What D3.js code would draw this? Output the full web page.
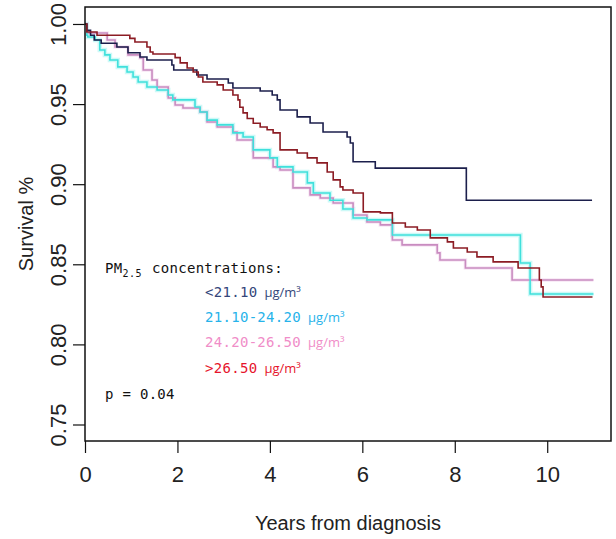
<!DOCTYPE html>
<html>
<head>
<meta charset="utf-8">
<script src="https://cdn.jsdelivr.net/npm/d3@7"></script>
<style>
  html, body { margin: 0; padding: 0; background: #ffffff; }
  svg { display: block; }
</style>
</head>
<body>
<svg id="chart" width="616" height="539"></svg>
<script>
// ---------------- data ----------------
const groupNames = ["<21.10", "21.10-24.20", "24.20-26.50", ">26.50"];
const unitLabel = "\u00b5g/m\u00b3";
const yTicks = [0.75, 0.80, 0.85, 0.90, 0.95, 1.00];
const xTicks = [0, 2, 4, 6, 8, 10];
const pValueText = "p = 0.04";

// Kaplan-Meier step times (years) and survival after each step
const navyTimes = [0.04, 0.12, 0.2, 0.35, 0.69, 0.93, 1.19, 1.34, 1.88, 1.92, 2.42, 2.64, 3.10, 3.20, 3.79, 4.05, 4.16, 4.22, 4.59, 4.87, 5.15, 5.67, 5.74, 5.80, 6.28, 8.25, 10.97];
const navySurv  = [0.996, 0.993, 0.990, 0.988, 0.9856, 0.982, 0.9794, 0.9775, 0.9744, 0.9713, 0.9682, 0.9657, 0.9632, 0.960, 0.9582, 0.9557, 0.9526, 0.9463, 0.942, 0.9382, 0.9326, 0.9295, 0.9257, 0.914, 0.910, 0.890, 0.890];

const cyanTimes = [0.04, 0.06, 0.22, 0.32, 0.43, 0.54, 0.71, 0.91, 1.04, 1.15, 1.34, 1.56, 1.80, 1.90, 2.38, 2.49, 2.64, 2.86, 3.20, 3.42, 3.64, 4.00, 4.16, 4.50, 4.81, 4.94, 5.30, 5.58, 5.80, 6.10, 6.65, 9.42, 9.63, 11.0];
const cyanSurv  = [0.993, 0.9919, 0.990, 0.9838, 0.9807, 0.9775, 0.9732, 0.970, 0.9669, 0.9638, 0.9607, 0.9588, 0.9557, 0.9526, 0.9482, 0.9451, 0.940, 0.937, 0.932, 0.9295, 0.9214, 0.9164, 0.9108, 0.9076, 0.9008, 0.8945, 0.890, 0.8845, 0.8789, 0.8777, 0.8683, 0.8508, 0.8315, 0.8315];

const pinkTimes = [0.04, 0.48, 0.65, 0.93, 1.19, 1.26, 1.45, 1.56, 1.80, 1.95, 2.12, 2.49, 2.64, 2.86, 3.20, 3.29, 3.64, 4.07, 4.22, 4.50, 4.87, 5.09, 5.37, 5.80, 6.10, 6.39, 6.65, 6.86, 7.62, 7.68, 8.23, 9.24, 11.0];
const pinkSurv  = [0.9944, 0.990, 0.9856, 0.9807, 0.9788, 0.9713, 0.965, 0.9607, 0.9538, 0.9494, 0.9476, 0.9451, 0.9388, 0.9357, 0.9326, 0.9276, 0.9164, 0.9108, 0.9089, 0.8977, 0.8933, 0.8914, 0.8883, 0.8808, 0.8764, 0.8746, 0.8652, 0.8621, 0.8571, 0.8527, 0.8477, 0.8402, 0.8402];

const redTimes = [0.04, 0.26, 0.97, 1.08, 1.34, 1.41, 1.47, 1.95, 2.06, 2.21, 2.34, 2.45, 2.55, 2.86, 2.99, 3.20, 3.31, 3.35, 3.42, 3.51, 3.64, 3.79, 3.94, 4.07, 4.22, 4.59, 4.81, 5.02, 5.24, 5.37, 5.52, 5.58, 5.80, 6.02, 6.39, 6.65, 6.93, 7.19, 7.47, 7.84, 7.97, 8.27, 8.48, 8.83, 9.37, 9.83, 9.87, 9.91, 10.98];
const redSurv  = [0.995, 0.993, 0.991, 0.9888, 0.9856, 0.9825, 0.9813, 0.979, 0.9757, 0.9725, 0.970, 0.9669, 0.9638, 0.962, 0.9588, 0.9557, 0.9526, 0.948, 0.9445, 0.941, 0.938, 0.9357, 0.934, 0.932, 0.9214, 0.9195, 0.9164, 0.9133, 0.9076, 0.9027, 0.8983, 0.8964, 0.8945, 0.8827, 0.8821, 0.8758, 0.8733, 0.8714, 0.8665, 0.864, 0.8602, 0.8577, 0.8546, 0.8515, 0.8477, 0.8402, 0.8359, 0.8296, 0.8296];

// ---------------- styles ----------------
const lineColors = ["#1c1f4c", "#3fe0dc", "#c98cc0", "#8c1c24"];
const textColors = ["#34467a", "#27b3ea", "#f08dc8", "#e6142c"];

const series = [
  { times: navyTimes, surv: navySurv },
  { times: cyanTimes, surv: cyanSurv },
  { times: pinkTimes, surv: pinkSurv },
  { times: redTimes,  surv: redSurv }
];

(function draw() {
const svg = d3.select("#chart");
const pL = 85, pR = 611, pT = 7, pB = 441;

const x = d3.scaleLinear().domain([0, 11.38]).range([pL, pR]);
const y = d3.scaleLinear().domain([0.7397, 1.0106]).range([pB, pT]);

const tickFont = "'Liberation Sans', Arial, sans-serif";

// axes
const yAxis = d3.axisLeft(y).tickValues(yTicks).tickSize(12).tickFormat(d3.format(".2f"));
const gy = svg.append("g").attr("transform", `translate(${pL},0)`).call(yAxis);
gy.select(".domain").remove();
gy.selectAll(".tick line").attr("stroke", "#111").attr("stroke-width", 1.2);
gy.selectAll(".tick text")
  .attr("transform", "rotate(-90)")
  .attr("x", 0).attr("y", -19).attr("dy", 0)
  .attr("text-anchor", "middle")
  .attr("fill", "#222")
  .style("font-family", tickFont)
  .style("font-size", "22px");

const xAxis = d3.axisBottom(x).tickValues(xTicks).tickSize(12).tickFormat(d3.format("d"));
const gx = svg.append("g").attr("transform", `translate(0,${pB})`).call(xAxis);
gx.select(".domain").remove();
gx.selectAll(".tick line").attr("stroke", "#111").attr("stroke-width", 1.2);
gx.selectAll(".tick text")
  .attr("y", 41).attr("dy", 0)
  .attr("fill", "#222")
  .style("font-family", tickFont)
  .style("font-size", "22px");

// curves
const line = d3.line()
  .x(d => x(d[0]))
  .y(d => y(d[1]))
  .curve(d3.curveStepAfter);

function pts(s) {
  const p = [[0, 1]];
  s.times.forEach((t, i) => p.push([t, s.surv[i]]));
  return p;
}

const curves = svg.append("g");
curves.append("path")
  .attr("d", line(pts(series[1])))
  .attr("fill", "none")
  .attr("stroke", "#b8f6f4")
  .attr("stroke-width", 4.5)
  .attr("stroke-opacity", 0.7);
curves.append("path")
  .attr("d", line(pts(series[2])))
  .attr("fill", "none")
  .attr("stroke", "#f2d6ec")
  .attr("stroke-width", 3.5)
  .attr("stroke-opacity", 0.6);

[2, 1, 0, 3].forEach(i => {
  curves.append("path")
    .attr("d", line(pts(series[i])))
    .attr("fill", "none")
    .attr("stroke", lineColors[i])
    .attr("stroke-width", 1.6);
});

// box
svg.append("rect")
  .attr("x", pL).attr("y", pT)
  .attr("width", pR - pL).attr("height", pB - pT)
  .attr("fill", "none").attr("stroke", "#111").attr("stroke-width", 1.5);

// axis titles
svg.append("text")
  .attr("transform", `translate(33,224) rotate(-90)`)
  .attr("text-anchor", "middle")
  .attr("fill", "#222")
  .style("font-family", tickFont)
  .style("font-size", "20px")
  .text("Survival %");

svg.append("text")
  .attr("x", (pL + pR) / 2).attr("y", 530)
  .attr("text-anchor", "middle")
  .attr("fill", "#222")
  .style("font-family", tickFont)
  .style("font-size", "20px")
  .text("Years from diagnosis");

// legend
const monoFont = "'DejaVu Sans Mono', 'Liberation Mono', monospace";
const unitFont = "'Open Sans', 'Noto Sans', sans-serif";
const title = svg.append("text")
  .attr("x", 105).attr("y", 272.7)
  .attr("fill", "#111")
  .style("font-family", monoFont)
  .style("font-size", "14px")
  .style("letter-spacing", "0.3px");
title.append("tspan").text("PM");
title.append("tspan").attr("dy", 4).style("font-size", "10px").style("letter-spacing", "0.5px").text("2.5");
title.append("tspan").attr("dy", -4).attr("x", 152).text("concentrations:");

groupNames.forEach((g, i) => {
  const t = svg.append("text")
    .attr("x", 205).attr("y", 297 + i * 25.2)
    .attr("fill", textColors[i])
    .style("font-family", monoFont)
    .style("font-size", "14px")
    .style("letter-spacing", "0.3px");
  t.append("tspan").text(g);
  t.append("tspan")
    .attr("dx", 7)
    .style("font-family", unitFont)
    .style("font-size", "13px")
    .style("letter-spacing", "0px")
    .text(unitLabel);
});

svg.append("text")
  .attr("x", 105).attr("y", 399)
  .attr("fill", "#111")
  .style("font-family", monoFont)
  .style("font-size", "14px")
  .style("letter-spacing", "0.3px")
  .text(pValueText);
})();
</script>
</body>
</html>
